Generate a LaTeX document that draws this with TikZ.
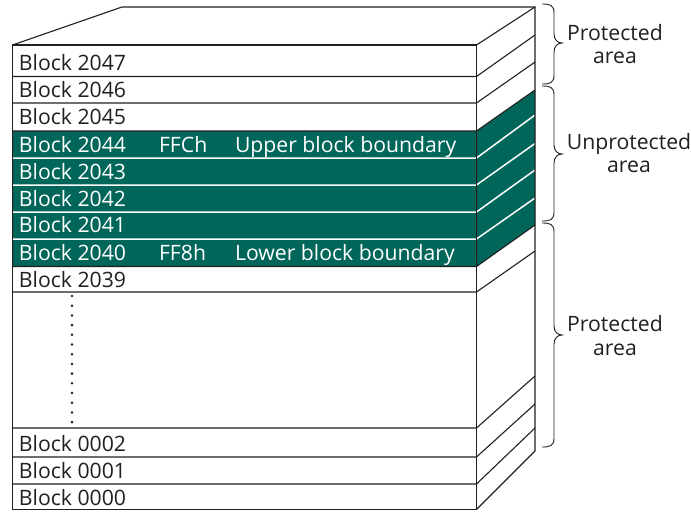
\documentclass[tikz,border=0pt]{standalone}
\usepackage{fontspec}
\setmainfont{Open Sans}
\definecolor{blockgreen}{HTML}{00665A}
\definecolor{ink}{HTML}{231F20}
\tikzset{
  edge/.style={draw=ink,line width=1.1pt},
  sep/.style={draw=white,line width=1.5pt},
  fillgreen/.style={fill=blockgreen,draw=none},
  blk/.style={anchor=base west,inner sep=0pt,outer sep=0pt,text=ink,font=\fontsize{21.2}{22}\selectfont},
  blkw/.style={blk,text=white},
  lab/.style={align=center,inner sep=0pt,outer sep=0pt,anchor=base,text=ink,font=\fontsize{21.2}{23.5}\selectfont},
  brace/.style={draw=ink,line width=0.9pt},
}
\newcommand{\bracepath}[3]{% top, tip, bottom
  \draw[brace] (542,#1) .. controls (550,#1) and (554,{#1+1}) .. (554,{#1+9})
    -- (554,{#2-9}) .. controls (554,{#2-3}) and (558,#2) .. (562,#2)
    .. controls (558,#2) and (554,{#2+3}) .. (554,{#2+9})
    -- (554,{#3-9}) .. controls (554,{#3-1}) and (550,#3) .. (542,#3);}
\begin{document}
\begin{tikzpicture}[x=1pt,y=-1pt]
\useasboundingbox[fill=white] (0,0) rectangle (691,512);
% green band
\fill[fillgreen] (12.5,131) rectangle (476.5,266.5);
\fill[fillgreen] (476.5,131) -- (535,90) -- (535,225) -- (476.5,266.5) -- cycle;
% white separators in green band
\foreach \a/\b in {158/115,185/143.5,212/170,239/198}
  \draw[sep] (13,\a) -- (476.5,\a) -- (535,\b);
% front outline and rows
\draw[edge] (12.5,45) rectangle (476.5,509.5);
\draw[edge] (12.5,45) -- (122,7) -- (535,7) -- (535,451) -- (476.5,509.5);
\draw[edge] (476.5,45) -- (535,7);
\foreach \a/\b in {76.5/35,103/62,131/90,266.5/225,292/251,428/376,457/404,484/428}
  \draw[edge] (12.5,\a) -- (476.5,\a) -- (535,\b);
% dots
\foreach \i in {0,...,13}
  \fill[ink] (72,{296+9.7*\i}) circle (1.4);
% texts
\node[blk] (b47) at (19,70) {Block 2047};
\node[blk] (b46) at (19,97.4) {Block 2046};
\node[blk] (b45) at (19,124.7) {Block 2045};
\node[blkw] (b44) at (19,152.2) {Block 2044};
\node[blkw] (b43) at (19,179) {Block 2043};
\node[blkw] (b42) at (19,206) {Block 2042};
\node[blkw] (b41) at (19,232.7) {Block 2041};
\node[blkw] (b40) at (19,260.2) {Block 2040};
\node[blk] (b39) at (19,287.4) {Block 2039};
\node[blk] (b02) at (19,451.4) {Block 0002};
\node[blk] (b01) at (19,478.7) {Block 0001};
\node[blk] (b00) at (19,505.7) {Block 0000};
\node[blkw] (ffc) at (159,152.2) {FFCh};
\node[blkw] (ff8) at (159,260.2) {FF8h};
\node[blkw] (ubb) at (235,152.2) {Upper block boundary};
\node[blkw] (lbb) at (235,260.2) {Lower block boundary};
% braces
\bracepath{4}{43}{84}
\bracepath{86}{154}{221}
\bracepath{223}{335}{447}
\node[lab] (p1) at (615,63.5) {Protected\\area};
\node[lab] (u1) at (629,172.5) {Unprotected\\area};
\node[lab] (p2) at (615,355) {Protected\\area};
\end{tikzpicture}
\end{document}
